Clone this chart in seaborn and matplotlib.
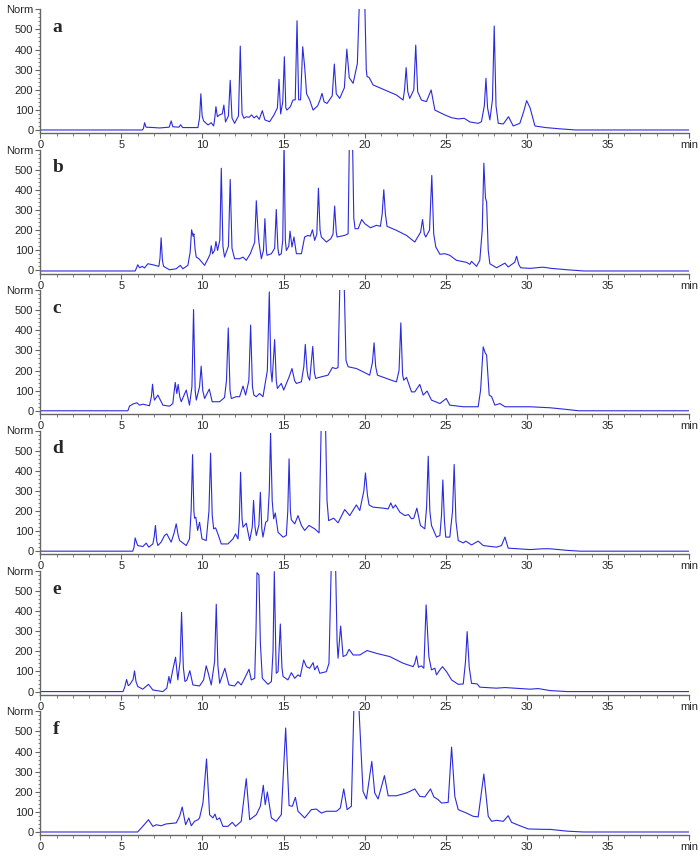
import pandas as pd
import seaborn as sns
import matplotlib.pyplot as plt

# chromatogram traces, (retention time in min, normalised signal)
trace_a = [(0, 0), (6.3, 0), (6.36, 8), (6.43, 36), (6.52, 14), (7.0, 12), (7.35, 10), (7.95, 14), (8.07, 45),
           (8.17, 16), (8.55, 14), (8.65, 26), (8.78, 12), (9.72, 12), (9.82, 60), (9.9, 180), (9.98, 70),
           (10.07, 45), (10.34, 25), (10.54, 36), (10.69, 20), (10.76, 60), (10.83, 116), (10.92, 66),
           (11.05, 75), (11.22, 80), (11.32, 124), (11.42, 40), (11.6, 70), (11.71, 247), (11.82, 60),
           (11.98, 33), (12.22, 70), (12.33, 417), (12.44, 80), (12.56, 58), (12.7, 66), (12.87, 63),
           (13.03, 75), (13.18, 60), (13.34, 70), (13.5, 53), (13.69, 96), (13.85, 50), (14.14, 41),
           (14.41, 75), (14.62, 110), (14.72, 252), (14.82, 80), (14.95, 140), (15.05, 364), (15.14, 110),
           (15.21, 99), (15.42, 116), (15.58, 149), (15.72, 150), (15.83, 543), (15.93, 150), (16.05, 150),
           (16.18, 414), (16.3, 315), (16.42, 180), (16.61, 149), (16.82, 99), (17.1, 120), (17.25, 150),
           (17.37, 182), (17.5, 140), (17.68, 132), (18.0, 170), (18.13, 328), (18.25, 180), (18.46, 157),
           (18.75, 210), (18.9, 402), (19.05, 260), (19.29, 232), (19.55, 330), (19.7, 700), (19.85, 680),
           (19.99, 700), (20.1, 300), (20.15, 265), (20.27, 262), (20.52, 224), (21.96, 174), (22.37, 149),
           (22.46, 200), (22.56, 310), (22.66, 190), (22.78, 157), (23.03, 200), (23.15, 422), (23.27, 190),
           (23.5, 149), (23.81, 141), (24.1, 199), (24.33, 99), (24.53, 91), (24.94, 75), (25.36, 61),
           (25.77, 55), (26.14, 58), (26.49, 40), (27.0, 33), (27.2, 41), (27.38, 120), (27.48, 257),
           (27.58, 110), (27.72, 50), (27.88, 150), (27.99, 517), (28.1, 120), (28.24, 33), (28.55, 30),
           (28.87, 66), (29.16, 20), (29.57, 33), (29.8, 90), (29.99, 146), (30.2, 110), (30.5, 20),
           (31.16, 12), (32.0, 6), (33.0, 0), (40, 0)]

trace_b = [(0, -3), (5.85, -3), (5.91, 8), (6.01, 28), (6.12, 13), (6.28, 20), (6.43, 12), (6.63, 33),
           (6.94, 28), (7.31, 20), (7.38, 60), (7.45, 162), (7.53, 50), (7.6, 20), (7.97, 3), (8.38, 8),
           (8.63, 25), (8.79, 8), (9.1, 25), (9.24, 90), (9.33, 202), (9.42, 170), (9.47, 182), (9.55, 100),
           (9.62, 66), (9.78, 58), (10.13, 25), (10.34, 58), (10.47, 80), (10.54, 123), (10.62, 83),
           (10.75, 100), (10.83, 144), (10.93, 99), (11.07, 150), (11.16, 508), (11.26, 120), (11.36, 66),
           (11.6, 120), (11.71, 452), (11.82, 110), (11.98, 58), (12.29, 58), (12.5, 66), (12.7, 50),
           (12.95, 83), (13.11, 116), (13.22, 140), (13.32, 346), (13.42, 200), (13.48, 141), (13.63, 58),
           (13.76, 100), (13.85, 257), (13.94, 100), (13.98, 75), (14.25, 83), (14.45, 110), (14.55, 303),
           (14.65, 110), (14.72, 75), (14.86, 83), (14.95, 150), (15.03, 640), (15.11, 150), (15.17, 99),
           (15.32, 120), (15.4, 195), (15.52, 116), (15.64, 166), (15.79, 83), (16.1, 83), (16.3, 166),
           (16.51, 174), (16.65, 170), (16.78, 202), (16.92, 149), (17.05, 180), (17.15, 409), (17.25, 200),
           (17.33, 166), (17.64, 141), (17.91, 157), (18.05, 180), (18.15, 320), (18.25, 190), (18.3, 166),
           (18.77, 174), (18.98, 182), (19.06, 660), (19.15, 640), (19.25, 660), (19.33, 260), (19.41, 207),
           (19.6, 207), (19.82, 253), (20.01, 232), (20.15, 224), (20.36, 212), (20.73, 224), (20.97, 219),
           (21.08, 280), (21.18, 401), (21.28, 280), (21.38, 219), (21.96, 199), (22.58, 174), (23.09, 141),
           (23.45, 190), (23.57, 253), (23.68, 180), (23.77, 166), (24.0, 200), (24.14, 472), (24.26, 180),
           (24.39, 116), (24.64, 80), (24.94, 83), (25.25, 75), (25.66, 50), (26.28, 40), (26.49, 30),
           (26.59, 45), (26.9, 20), (27.1, 50), (27.25, 200), (27.35, 533), (27.45, 360), (27.52, 340),
           (27.62, 100), (27.72, 33), (28.13, 13), (28.65, 36), (28.85, 17), (29.25, 40), (29.37, 70),
           (29.5, 30), (29.62, 13), (30.2, 10), (31.0, 16), (31.5, 10), (32.5, 3), (33.5, -3), (40, -3)]

trace_c = [(0, 0), (5.4, 0), (5.5, 23), (5.7, 33), (5.95, 40), (6.12, 28), (6.32, 33), (6.73, 25), (6.85, 70),
           (6.92, 132), (7.0, 70), (7.04, 53), (7.25, 78), (7.56, 28), (7.97, 23), (8.17, 36), (8.32, 141),
           (8.42, 86), (8.5, 131), (8.6, 70), (8.69, 45), (9.0, 103), (9.2, 28), (9.35, 120), (9.45, 503),
           (9.55, 100), (9.62, 53), (9.82, 120), (9.92, 222), (10.02, 100), (10.13, 61), (10.42, 108),
           (10.6, 45), (11.06, 45), (11.36, 66), (11.48, 150), (11.59, 412), (11.7, 100), (11.78, 61),
           (12.08, 70), (12.29, 70), (12.5, 123), (12.66, 78), (12.86, 150), (12.97, 426), (13.08, 120),
           (13.17, 78), (13.32, 70), (13.52, 86), (13.73, 70), (14.0, 200), (14.12, 591), (14.22, 200),
           (14.29, 144), (14.45, 354), (14.55, 150), (14.62, 111), (14.86, 136), (15.01, 103), (15.35, 170),
           (15.52, 210), (15.68, 150), (15.79, 136), (16.1, 144), (16.25, 220), (16.34, 330), (16.45, 200),
           (16.51, 169), (16.61, 152), (16.8, 320), (16.9, 190), (16.98, 161), (17.33, 169), (17.74, 177),
           (18.01, 215), (18.22, 210), (18.36, 215), (18.48, 660), (18.6, 640), (18.73, 660), (18.85, 250),
           (18.98, 219), (19.49, 210), (19.9, 194), (20.31, 177), (20.48, 240), (20.58, 338), (20.68, 220),
           (20.79, 177), (21.34, 161), (21.75, 149), (21.96, 144), (22.12, 200), (22.23, 437), (22.34, 180),
           (22.41, 152), (22.58, 166), (22.89, 94), (23.09, 94), (23.4, 131), (23.61, 78), (23.85, 98),
           (24.12, 53), (24.64, 36), (25.03, 61), (25.25, 28), (26.08, 20), (27.0, 20), (27.15, 103),
           (27.31, 318), (27.43, 288), (27.52, 277), (27.68, 78), (27.83, 70), (28.03, 28), (28.34, 36),
           (28.65, 20), (30.2, 20), (31.43, 15), (32.3, 8), (33.2, 0), (40, 0)]

trace_d = [(0, 0), (5.7, 0), (5.78, 20), (5.85, 66), (5.95, 40), (6.01, 28), (6.32, 23), (6.53, 40), (6.69, 20),
           (6.94, 36), (7.02, 70), (7.1, 128), (7.18, 50), (7.25, 28), (7.45, 45), (7.66, 78), (7.8, 86),
           (8.07, 45), (8.25, 90), (8.38, 136), (8.5, 80), (8.59, 53), (9.0, 28), (9.2, 61), (9.3, 200),
           (9.39, 480), (9.47, 200), (9.51, 164), (9.59, 169), (9.7, 103), (9.82, 144), (9.97, 61),
           (10.23, 53), (10.4, 200), (10.5, 487), (10.6, 180), (10.69, 111), (10.81, 116), (10.95, 86),
           (11.16, 36), (11.57, 36), (11.88, 61), (12.04, 86), (12.19, 61), (12.27, 150), (12.35, 392),
           (12.44, 160), (12.5, 119), (12.7, 139), (12.91, 53), (13.07, 120), (13.15, 252), (13.24, 120),
           (13.32, 78), (13.48, 130), (13.57, 293), (13.66, 110), (13.73, 70), (13.9, 144), (14.02, 152),
           (14.12, 300), (14.2, 586), (14.3, 250), (14.39, 161), (14.49, 190), (14.66, 94), (14.97, 70),
           (15.17, 78), (15.26, 200), (15.34, 459), (15.42, 200), (15.48, 156), (15.69, 136), (15.89, 177),
           (16.1, 128), (16.3, 103), (16.57, 128), (16.92, 111), (17.19, 91), (17.33, 660), (17.45, 640),
           (17.58, 660), (17.68, 250), (17.78, 152), (18.09, 164), (18.36, 141), (18.77, 207), (19.08, 177),
           (19.49, 230), (19.7, 202), (19.95, 300), (20.05, 389), (20.17, 280), (20.27, 230), (20.52, 219),
           (21.14, 214), (21.45, 210), (21.61, 240), (21.75, 214), (21.9, 230), (22.17, 194), (22.48, 177),
           (22.7, 182), (22.89, 161), (23.03, 164), (23.22, 214), (23.44, 128), (23.71, 111), (23.82, 220),
           (23.92, 472), (24.02, 200), (24.12, 128), (24.43, 70), (24.64, 78), (24.74, 180), (24.82, 354),
           (24.92, 150), (25.0, 70), (25.25, 70), (25.42, 200), (25.52, 431), (25.63, 150), (25.77, 53),
           (26.08, 41), (26.24, 50), (26.59, 31), (27.0, 50), (27.31, 28), (27.62, 25), (28.13, 20),
           (28.44, 28), (28.65, 70), (28.85, 15), (30.2, 8), (31.0, 12), (31.43, 12), (32.5, 4), (33.3, 0),
           (40, 0)]

trace_e = [(0, 0), (5.1, 0), (5.2, 20), (5.32, 60), (5.42, 30), (5.5, 33), (5.72, 60), (5.81, 103), (5.9, 50),
           (6.01, 25), (6.32, 12), (6.67, 36), (6.94, 8), (7.56, 0), (7.8, 17), (7.93, 75), (8.01, 41),
           (8.17, 108), (8.34, 171), (8.48, 58), (8.62, 150), (8.71, 394), (8.82, 120), (8.92, 50), (9.04, 58),
           (9.22, 104), (9.41, 33), (9.82, 28), (10.07, 58), (10.23, 128), (10.36, 91), (10.54, 33),
           (10.75, 150), (10.85, 434), (10.95, 130), (11.06, 41), (11.38, 116), (11.63, 33), (11.98, 28),
           (12.19, 50), (12.39, 33), (12.6, 66), (12.87, 111), (13.01, 58), (13.22, 66), (13.3, 300),
           (13.36, 591), (13.48, 580), (13.57, 240), (13.69, 66), (14.04, 36), (14.25, 50), (14.35, 200),
           (14.43, 596), (14.52, 200), (14.55, 91), (14.66, 99), (14.8, 336), (14.9, 120), (14.97, 75),
           (15.27, 58), (15.48, 94), (15.69, 66), (15.89, 83), (16.03, 75), (16.24, 157), (16.41, 124),
           (16.61, 116), (16.82, 144), (16.92, 108), (17.08, 128), (17.23, 91), (17.64, 99), (17.8, 141),
           (17.95, 660), (18.08, 640), (18.2, 660), (18.3, 250), (18.36, 166), (18.52, 326), (18.67, 174),
           (18.87, 182), (19.04, 210), (19.29, 182), (19.7, 182), (20.15, 204), (20.73, 190), (21.55, 174),
           (22.37, 141), (22.99, 124), (23.09, 141), (23.2, 177), (23.32, 121), (23.5, 128), (23.65, 116),
           (23.79, 431), (23.96, 174), (24.12, 108), (24.33, 116), (24.43, 83), (24.64, 108), (24.8, 124),
           (25.05, 99), (25.36, 58), (25.77, 36), (26.08, 38), (26.22, 150), (26.32, 298), (26.45, 120),
           (26.59, 41), (26.94, 38), (27.1, 22), (28.13, 17), (28.65, 20), (30.2, 12), (30.7, 15),
           (31.43, 5), (32.5, 0), (40, 0)]

trace_f = [(0, 0), (6.0, 0), (6.32, 28), (6.67, 61), (6.94, 28), (7.15, 36), (7.45, 31), (7.76, 40), (8.38, 45),
           (8.59, 78), (8.75, 124), (8.96, 36), (9.16, 70), (9.31, 31), (9.51, 53), (9.72, 61), (9.82, 70),
           (10.03, 144), (10.25, 363), (10.44, 86), (10.64, 70), (10.77, 89), (10.89, 61), (11.06, 70),
           (11.26, 28), (11.57, 28), (11.84, 48), (12.04, 28), (12.39, 53), (12.7, 265), (12.91, 61),
           (13.32, 86), (13.57, 128), (13.75, 232), (13.87, 136), (14.0, 199), (14.25, 70), (14.55, 53),
           (14.86, 86), (15.13, 517), (15.34, 131), (15.54, 128), (15.73, 172), (15.89, 103), (16.3, 70),
           (16.71, 111), (17.02, 114), (17.33, 94), (17.64, 103), (17.95, 103), (18.26, 103), (18.5, 119),
           (18.71, 214), (18.92, 111), (19.18, 128), (19.35, 660), (19.48, 640), (19.62, 660), (19.9, 202),
           (20.11, 164), (20.44, 351), (20.62, 194), (20.83, 164), (21.22, 280), (21.45, 180), (21.96, 180),
           (22.58, 194), (23.09, 214), (23.4, 177), (23.71, 174), (24.06, 214), (24.27, 174), (24.53, 161),
           (24.74, 144), (25.15, 147), (25.36, 422), (25.56, 177), (25.77, 111), (26.28, 94), (26.69, 78),
           (27.0, 75), (27.35, 288), (27.62, 78), (27.83, 53), (28.13, 58), (28.55, 53), (28.85, 81),
           (29.06, 48), (29.57, 31), (30.09, 15), (31.0, 13), (31.43, 13), (32.5, 4), (33.5, 0), (40, 0)]

panel_labels = ['a', 'b', 'c', 'd', 'e', 'f']
traces = [trace_a, trace_b, trace_c, trace_d, trace_e, trace_f]
x_ticklabels = ['0', '5', '10', '15', '20', '25', '30', '35', 'min']
y_ticklabels = ['0', '100', '200', '300', '400', '500', 'Norm']

sns.set_style('ticks')
plt.rcParams['font.family'] = ['Liberation Sans', 'DejaVu Sans']

W, H = 700, 857
fig = plt.figure(figsize=(W / 100, H / 100), dpi=100)

for i, (lab, tr) in enumerate(zip(panel_labels, traces)):
    top = 9.3 + 140.4 * i
    bot = 133.2 + 140.4 * i
    ax = fig.add_axes([40.3 / W, 1 - bot / H, (689 - 40.3) / W, (bot - top) / H])
    df = pd.DataFrame(tr, columns=['time', 'signal'])
    sns.lineplot(data=df, x='time', y='signal', ax=ax, color='#2b2bdd', lw=0.8,
                 estimator=None, sort=False)
    ax.set_xlim(0, 40)
    ax.set_ylim(-16, 600)
    ax.set_xticks(range(0, 41, 5))
    ax.set_xticklabels(x_ticklabels)
    ax.set_xticks(range(0, 41), minor=True)
    ax.set_yticks(range(0, 601, 100))
    ax.set_yticklabels(y_ticklabels)
    ax.set_yticks(range(0, 601, 20), minor=True)
    ax.set_xlabel('')
    ax.set_ylabel('')
    for s in ['top', 'right']:
        ax.spines[s].set_visible(False)
    for s in ['left', 'bottom']:
        ax.spines[s].set_color('#666666')
        ax.spines[s].set_linewidth(1.0)
    ax.tick_params(which='major', length=3.5, width=0.8, color='#666666', labelsize=8, pad=1.5)
    ax.tick_params(which='minor', length=1.8, width=0.6, color='#666666')
    ax.text(0.75, 510, lab, fontfamily='Liberation Serif', fontweight='bold', fontsize=14,
            va='center', ha='left')

fig.savefig('out.png', dpi=100)
